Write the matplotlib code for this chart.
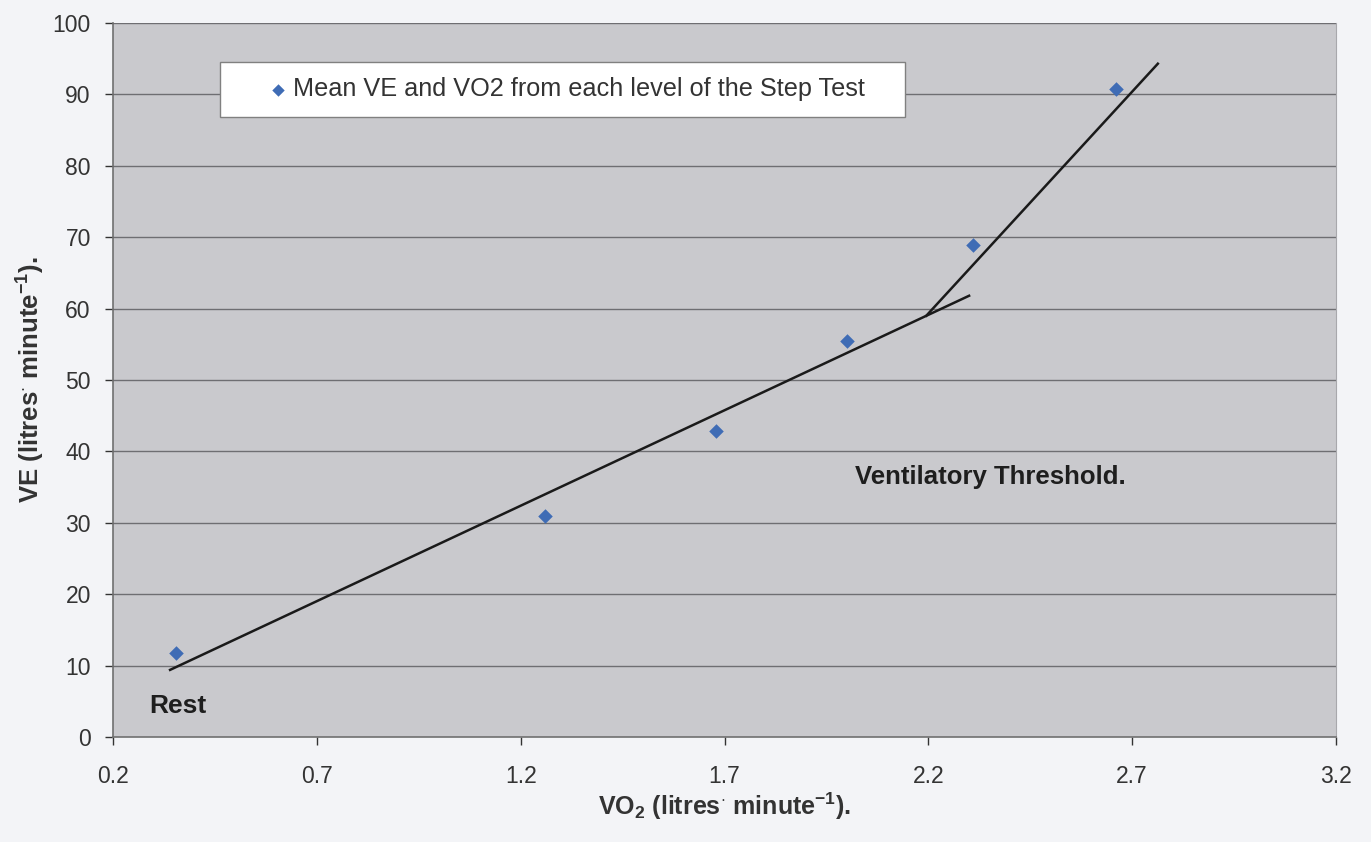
import matplotlib
matplotlib.use("Agg")
import matplotlib.pyplot as plt
from matplotlib.patches import Rectangle

plt.rcParams['font.family'] = ['Liberation Sans', 'DejaVu Sans']
plt.rcParams['mathtext.fontset'] = 'custom'
plt.rcParams['mathtext.rm'] = 'Liberation Sans:bold'
plt.rcParams['mathtext.bf'] = 'Liberation Sans:bold'
plt.rcParams['mathtext.it'] = 'Liberation Sans:bold'
plt.rcParams['mathtext.default'] = 'bf'

# Data
vo2 = [0.355, 1.26, 1.68, 2.00, 2.31, 2.66]
ve = [11.7, 31.0, 42.8, 55.4, 68.9, 90.8]

# Hand-drawn trend lines (endpoints)
line1_x = [0.34, 2.30]
line1_y = [9.4, 61.8]
line2_x = [2.195, 2.763]
line2_y = [59.0, 94.3]

xticks = [0.2, 0.7, 1.2, 1.7, 2.2, 2.7, 3.2]
yticks = list(range(0, 101, 10))

legend_label = "Mean VE and VO2 from each level of the Step Test"

fig = plt.figure(figsize=(13.71, 8.42), dpi=100, facecolor='#f3f4f7')
ax = fig.add_axes([113/1371, 1 - 737/842, (1336-113)/1371, (737-23)/842])
ax.set_facecolor('#c9c9cd')

ax.set_xlim(0.2, 3.2)
ax.set_ylim(0, 100)
ax.set_xticks(xticks)
ax.set_xticklabels([f"{t:.1f}" for t in xticks])
ax.set_yticks(yticks)
ax.tick_params(axis='both', labelsize=16.5, colors='#333333', length=6, width=1, direction='out')
ax.tick_params(axis='x', pad=14)
ax.tick_params(axis='y', pad=10)

for y in yticks[1:]:
    ax.axhline(y, color='#6e6e72', lw=1, zorder=1)

for s in ['left', 'bottom']:
    ax.spines[s].set_color('#707070')
    ax.spines[s].set_linewidth(1.2)
ax.spines['top'].set_visible(False)
ax.spines['right'].set_color('#a8a8ac')

ax.plot(line1_x, line1_y, color='#1a1a1a', lw=1.8, zorder=3)
ax.plot(line2_x, line2_y, color='#1a1a1a', lw=1.8, zorder=3)
ax.scatter(vo2, ve, marker='D', s=55, color='#3f6cb5', zorder=4, linewidths=0)

ax.text(2.02, 35.5, "Ventilatory Threshold.", fontsize=18.5, fontweight='bold', color='#1e1e1e', zorder=5)
ax.text(0.29, 3.3, "Rest", fontsize=19, fontweight='bold', color='#1e1e1e', zorder=5)

# Legend box drawn manually (marker sits right next to the text, as in the original)
ax.add_patch(Rectangle((0.0875, 0.8683), 0.5601, 0.0771, transform=ax.transAxes,
                       facecolor='white', edgecolor='#808080', lw=1, zorder=6))
ax.scatter([0.1349], [0.9055], marker='D', s=40, color='#3f6cb5', linewidths=0,
           transform=ax.transAxes, zorder=7)
ax.text(0.1475, 0.9069, legend_label, transform=ax.transAxes, fontsize=18.2,
        color='#333333', va='center', ha='left', zorder=7)

ax.set_xlabel(r"VO$_2$ (litres$^{\cdot}$ minute$^{-1}$).", fontsize=18, fontweight='bold', color='#333333', labelpad=2)
ax.set_ylabel(r"VE (litres$^{\cdot}$ minute$^{-1}$).", fontsize=18.5, fontweight='bold', color='#333333', labelpad=4)

fig.savefig("out.png", dpi=100, facecolor=fig.get_facecolor())
